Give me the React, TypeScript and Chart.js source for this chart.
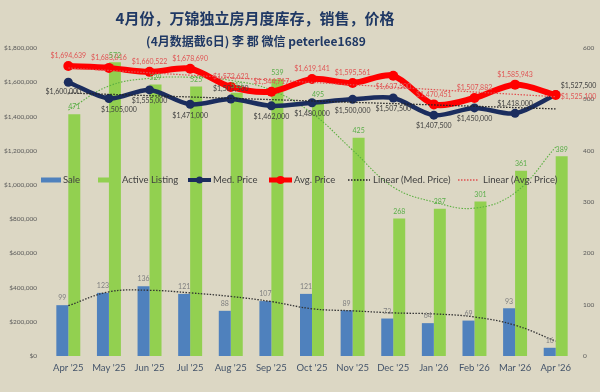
import React, { useEffect, useRef } from "react";
import { Chart, registerables } from "chart.js";
Chart.register(...registerables);

const categories = ["Apr '25", "May '25", "Jun '25", "Jul '25", "Aug '25", "Sep '25", "Oct '25", "Nov '25", "Dec '25", "Jan '26", "Feb '26", "Mar '26", "Apr '26"];
const sales = [99, 123, 136, 121, 88, 107, 121, 89, 73, 64, 69, 93, 16];
const activeListing = [471, 572, 529, 525, 513, 539, 495, 425, 268, 287, 301, 361, 389];
const medPrice = [1600000, 1505000, 1555000, 1471000, 1501500, 1462000, 1480000, 1500000, 1507500, 1407500, 1450000, 1418000, 1527500];
const avgPrice = [1694639, 1683816, 1660522, 1678690, 1572623, 1544717, 1619141, 1595561, 1637500, 1470451, 1507882, 1585943, 1525100];
const medLinear = [1537000, null, null, null, null, null, null, null, null, null, null, null, 1444000];
const avgLinear = [1683000, null, null, null, null, null, null, null, null, null, null, null, 1515000];
const salesTrend = [98, 125, 128, 123, 116, 106, 92, 88, 84, 82, 76, 60, 29];
const listingTrend = [479, 526, 541, 543, 537, 518, 473, 401, 329, 300, 288, 318, 407];
const priceTicksMax = 1800000;
const countTicksMax = 600;

const avgLabelPos = ["a", "a", "a", "a", "a", "a", "a", "a", "b", "a", "a", "a", "r"];
const medLabelPos = ["bl", "br", "b", "b", "a", "b", "b", "b", "b", "b", "b", "a", "ar"];

const FONT = "Lato, 'Noto Sans CJK SC', sans-serif";
const CJK = "'Noto Sans CJK SC', Lato, sans-serif";
const BG = "#DCD7C4";
const NAVY = "#1B2D5E";
const RED = "#FF0000";
const BLUE = "#4F81BD";
const GREEN = "#92D050";

const money = (v: number) => "$" + Math.round(v).toLocaleString("en-US");

const bgPlugin = {
  id: "bg",
  beforeDraw(chart: any) {
    const { ctx, width, height } = chart;
    ctx.save();
    ctx.fillStyle = BG;
    ctx.fillRect(0, 0, width, height);
    ctx.restore();
  },
};

const labelPlugin = {
  id: "pointLabels",
  afterDatasetsDraw(chart: any) {
    const ctx = chart.ctx;
    ctx.save();
    chart.data.datasets.forEach((ds: any, i: number) => {
      const cfg = ds.labelCfg;
      if (!cfg) return;
      const meta = chart.getDatasetMeta(i);
      meta.data.forEach((el: any, j: number) => {
        const v = ds.data[j];
        if (v == null) return;
        const text = cfg.format(v);
        ctx.font = `${cfg.size}px ${FONT}`;
        ctx.fillStyle = cfg.color;
        ctx.textBaseline = "middle";
        ctx.textAlign = "center";
        let x = el.x;
        let y = el.y;
        const pos = cfg.pos ? cfg.pos[j] : "a";
        if (cfg.bar) {
          y = el.y - 7;
        } else if (pos === "a") {
          y -= 10;
        } else if (pos === "b") {
          y += 11;
        } else if (pos === "bl") {
          y += 10;
          x -= 5;
        } else if (pos === "br") {
          y += 11;
          x += 10;
        } else if (pos === "r") {
          ctx.textAlign = "left";
          x += 5;
          y += 2;
        } else if (pos === "ar") {
          ctx.textAlign = "left";
          x += 5;
          y -= 9;
        }
        ctx.fillText(text, x, y);
      });
    });
    ctx.restore();
  },
};

const overlayPlugin = {
  id: "overlay",
  afterDraw(chart: any) {
    const ctx = chart.ctx;
    ctx.save();
    // titles
    ctx.fillStyle = "#1F3864";
    ctx.textAlign = "center";
    ctx.textBaseline = "middle";
    ctx.font = `bold 15px ${CJK}`;
    ctx.fillText("4月份，万锦独立房月度库存，销售，价格", 255, 18);
    ctx.font = `bold 12px ${CJK}`;
    ctx.fillText("(4月数据截6日) 李 郡 微信 peterlee1689", 256, 41);

    // legend
    const ly = 180;
    ctx.textAlign = "left";
    ctx.font = `9.5px ${FONT}`;
    const text = (t: string, x: number) => {
      ctx.fillStyle = "#404040";
      ctx.fillText(t, x, ly);
    };
    ctx.fillStyle = BLUE;
    ctx.fillRect(41, ly - 2.5, 20, 5);
    text("Sale", 63);
    ctx.fillStyle = GREEN;
    ctx.fillRect(98, ly - 2.5, 21, 5);
    text("Active Listing", 122);

    ctx.strokeStyle = NAVY;
    ctx.lineWidth = 4;
    ctx.beginPath();
    ctx.moveTo(188, ly);
    ctx.lineTo(211, ly);
    ctx.stroke();
    ctx.fillStyle = NAVY;
    ctx.beginPath();
    ctx.arc(199.5, ly, 3.5, 0, Math.PI * 2);
    ctx.fill();
    text("Med. Price", 213);

    ctx.strokeStyle = RED;
    ctx.lineWidth = 5;
    ctx.beginPath();
    ctx.moveTo(269, ly);
    ctx.lineTo(292, ly);
    ctx.stroke();
    ctx.fillStyle = RED;
    ctx.beginPath();
    ctx.arc(280.5, ly, 4, 0, Math.PI * 2);
    ctx.fill();
    text("Avg. Price", 294);

    ctx.setLineDash([1.5, 1.5]);
    ctx.lineWidth = 1.3;
    ctx.strokeStyle = "#222";
    ctx.beginPath();
    ctx.moveTo(348, ly);
    ctx.lineTo(370, ly);
    ctx.stroke();
    text("Linear (Med. Price)", 373);
    ctx.strokeStyle = "#E05050";
    ctx.beginPath();
    ctx.moveTo(458, ly);
    ctx.lineTo(478, ly);
    ctx.stroke();
    text("Linear (Avg. Price)", 483);
    ctx.restore();
  },
};

export default function App() {
  const ref = useRef<HTMLCanvasElement | null>(null);
  useEffect(() => {
    document.body.style.margin = "0";
    const canvas = ref.current;
    if (!canvas) return;
    const tickFont = { family: FONT, size: 6.5 };
    const chart = new Chart(canvas, {
      type: "bar",
      data: {
        labels: categories,
        datasets: [
          {
            type: "line",
            label: "Linear (Med. Price)",
            data: medLinear,
            yAxisID: "y",
            borderColor: "#222",
            borderWidth: 1.3,
            borderDash: [1.5, 1.5],
            pointRadius: 0,
            spanGaps: true,
            order: 0,
          } as any,
          {
            type: "line",
            label: "Linear (Avg. Price)",
            data: avgLinear,
            yAxisID: "y",
            borderColor: "#E05050",
            borderWidth: 1.2,
            borderDash: [1.5, 1.5],
            pointRadius: 0,
            spanGaps: true,
            order: 0,
          } as any,
          {
            type: "line",
            label: "Avg. Price",
            data: avgPrice,
            yAxisID: "y",
            borderColor: RED,
            backgroundColor: RED,
            borderWidth: 6,
            pointRadius: 5,
            pointBackgroundColor: RED,
            pointBorderWidth: 0,
            tension: 0.3,
            order: 1,
            labelCfg: { format: money, color: "#E05555", size: 7, pos: avgLabelPos },
          } as any,
          {
            type: "line",
            label: "Med. Price",
            data: medPrice,
            yAxisID: "y",
            borderColor: NAVY,
            backgroundColor: NAVY,
            borderWidth: 4.5,
            pointRadius: 4.5,
            pointBackgroundColor: NAVY,
            pointBorderWidth: 0,
            tension: 0.3,
            order: 2,
            labelCfg: { format: money, color: "#404040", size: 7, pos: medLabelPos },
          } as any,
          {
            type: "line",
            label: "Sale trend",
            data: salesTrend,
            yAxisID: "y1",
            borderColor: "#333",
            borderWidth: 1.3,
            borderDash: [1.5, 1.5],
            pointRadius: 0,
            tension: 0.4,
            order: 3,
          } as any,
          {
            type: "line",
            label: "Listing trend",
            data: listingTrend,
            yAxisID: "y1",
            borderColor: "#5DB042",
            borderWidth: 1.1,
            borderDash: [1.5, 1.5],
            pointRadius: 0,
            tension: 0.4,
            order: 3,
          } as any,
          {
            type: "bar",
            label: "Sale",
            data: sales,
            yAxisID: "y1",
            backgroundColor: BLUE,
            categoryPercentage: 0.59,
            barPercentage: 1,
            order: 5,
            labelCfg: { format: (v: number) => String(v), color: "#808080", size: 7, bar: true },
          } as any,
          {
            type: "bar",
            label: "Active Listing",
            data: activeListing,
            yAxisID: "y1",
            backgroundColor: GREEN,
            categoryPercentage: 0.59,
            barPercentage: 1,
            order: 5,
            labelCfg: { format: (v: number) => String(v), color: "#5BAE4A", size: 7, bar: true },
          } as any,
        ],
      },
      options: {
        animation: false,
        responsive: false,
        maintainAspectRatio: false,
        layout: { padding: { top: 48, left: 0, right: 0, bottom: 0 } },
        plugins: {
          legend: { display: false },
          title: { display: false },
          tooltip: { enabled: false },
        },
        scales: {
          x: {
            offset: true,
            grid: { display: false, drawTicks: false },
            border: { display: false },
            ticks: { font: { family: FONT, size: 9.5 }, color: "#44546A", padding: 6, maxRotation: 0, autoSkip: false },
            afterFit(s: any) {
              s.height = 36;
            },
          },
          y: {
            position: "left",
            min: 0,
            max: priceTicksMax,
            grid: { display: false, drawTicks: false },
            border: { display: false },
            ticks: {
              stepSize: 200000,
              font: tickFont,
              color: "#595959",
              padding: 11,
              callback: (v: any) => money(Number(v)),
            },
            afterFit(s: any) {
              s.width = 48;
            },
          },
          y1: {
            position: "right",
            min: 0,
            max: countTicksMax,
            grid: { display: false, drawTicks: false },
            border: { display: false },
            ticks: { stepSize: 100, font: tickFont, color: "#595959", padding: 7 },
            afterFit(s: any) {
              s.width = 24;
            },
          },
        },
      } as any,
      plugins: [bgPlugin, labelPlugin, overlayPlugin],
    });
    return () => chart.destroy();
  }, []);
  return (
    <div style={{ width: 600, height: 392, background: BG }}>
      <canvas ref={ref} width={600} height={392} style={{ display: "block", width: 600, height: 392 }} />
    </div>
  );
}
